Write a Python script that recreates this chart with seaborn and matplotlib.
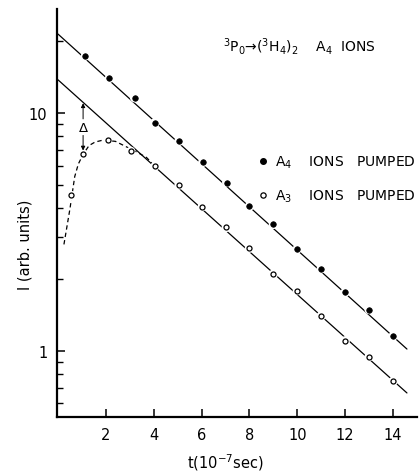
import numpy as np
import pandas as pd
import matplotlib
matplotlib.use("Agg")
import matplotlib.pyplot as plt
import seaborn as sns
from matplotlib.lines import Line2D
from matplotlib.ticker import LogLocator, NullFormatter

# ---- data ----
t_a4 = [1.15, 2.15, 3.2, 4.05, 5.05, 6.05, 7.05, 8.0, 9.0, 10, 11, 12, 13, 14]
i_a4 = [17.4, 14.0, 11.6, 9.1, 7.6, 6.2, 5.1, 4.05, 3.4, 2.68, 2.21, 1.76, 1.49, 1.15]
t_a3 = [0.55, 1.05, 2.07, 3.04, 4.07, 5.06, 6.03, 7.03, 8.0, 9.0, 10, 11, 12, 13, 14]
i_a3 = [4.5, 6.7, 7.7, 6.9, 6.0, 4.98, 4.04, 3.3, 2.7, 2.1, 1.79, 1.40, 1.10, 0.944, 0.743]
fit_t = [0.0, 14.58]
fit_a4 = [21.5, 1.016]
fit_a3 = [13.8, 0.664]
rise_t = [0.25, 0.5, 0.7, 0.85, 1.05, 1.3, 1.55, 1.9, 2.4, 2.75, 3.3, 3.7, 4.0]
rise_i = [2.8, 3.95, 5.4, 6.1, 6.7, 7.3, 7.55, 7.7, 7.6, 7.3, 6.85, 6.5, 6.05]
delta_t = 1.05
delta_top, delta_mid, delta_bottom = 11.0, 8.73, 6.95
x_ticks = [2, 4, 6, 8, 10, 12, 14]
x_labels = ["2", "4", "6", "8", "10", "12", "14"]
y_ticks = [1, 10]
y_labels = ["1", "10"]
title = r"$^3$P$_0$→($^3$H$_4$)$_2$    A$_4$  IONS"
legend_labels = [r"A$_4$    IONS   PUMPED", r"A$_3$    IONS   PUMPED"]

sns.set_style("ticks")
plt.rcParams["font.family"] = ["DejaVu Sans"]
plt.rcParams["mathtext.default"] = "regular"
for k in ["text.color", "axes.labelcolor", "xtick.color", "ytick.color", "axes.edgecolor"]:
    plt.rcParams[k] = "black"

fig = plt.figure(figsize=(4.2, 4.77), dpi=100)
L, R, B, T = 57, 417, 418, 10
ax = fig.add_axes([L / 420, 1 - B / 477, (R - L) / 420, (B - T) / 477])
ax.set_yscale("log")

lw = 0.9
sns.lineplot(x=fit_t, y=fit_a4, color="k", lw=lw, ax=ax, zorder=2)
sns.lineplot(x=fit_t, y=fit_a3, color="k", lw=lw, ax=ax, zorder=2)
sns.lineplot(x=rise_t, y=rise_i, color="k", lw=lw, ls=(0, (3.5, 2.5)), ax=ax, zorder=2)

# white halos that break the lines around the points
sns.scatterplot(x=t_a4, y=i_a4, s=45, color="white", edgecolor="none", ax=ax, zorder=3)
sns.scatterplot(x=t_a3, y=i_a3, s=45, color="white", edgecolor="none", ax=ax, zorder=3)
sns.scatterplot(x=t_a4, y=i_a4, s=16, color="k", edgecolor="k", linewidth=0.5, ax=ax, zorder=4)
sns.scatterplot(x=t_a3, y=i_a3, s=13, color="white", edgecolor="k", linewidth=0.9, ax=ax, zorder=4)

# delta arrow
ax.text(delta_t, delta_mid, "Δ", ha="center", va="center", fontsize=9.5)
ax.annotate("", xy=(delta_t, delta_top), xytext=(delta_t, 9.45),
            arrowprops=dict(arrowstyle="-|>", lw=0.7, color="k", shrinkA=0, shrinkB=0, mutation_scale=6))
ax.annotate("", xy=(delta_t, delta_bottom), xytext=(delta_t, 8.05),
            arrowprops=dict(arrowstyle="-|>", lw=0.7, color="k", shrinkA=0, shrinkB=0, mutation_scale=6))

ax.set_xlim(-0.04, 15)
ax.set_ylim(0.526, 27.4)
ax.set_xticks(x_ticks, x_labels)
ax.set_yticks(y_ticks, y_labels)
ax.yaxis.set_minor_locator(LogLocator(base=10, subs=np.arange(2, 10)))
ax.yaxis.set_minor_formatter(NullFormatter())
ax.tick_params(axis="both", which="major", direction="in", length=5.5, width=1.1, labelsize=10.5, pad=7)
ax.tick_params(axis="y", which="minor", direction="in", length=4, width=1)

for s in ["top", "right"]:
    ax.spines[s].set_visible(False)
for s in ["left", "bottom"]:
    ax.spines[s].set_linewidth(1.6)

ax.set_xlabel(r"t(10$^{-7}$sec)", fontsize=10.5)
ax.set_ylabel("I (arb. units)", fontsize=10.5)
ax.xaxis.set_label_coords((225 - L) / (R - L), (B - 452) / (B - T))
ax.yaxis.set_label_coords((33 - L) / (R - L), (B - 245) / (B - T))

ax.text((223 - L) / (R - L), (B - 47) / (B - T), title, transform=ax.transAxes,
        ha="left", va="center", fontsize=10)

handles = [Line2D([], [], ls="none", marker="o", ms=4, mfc="k", mec="k"),
           Line2D([], [], ls="none", marker="o", ms=3.8, mfc="white", mec="k", mew=0.9)]
ax.legend(handles, legend_labels, loc="center left", bbox_to_anchor=(259 / 420, 1 - 180 / 477),
          bbox_transform=fig.transFigure, frameon=False, handlelength=0.55, handletextpad=0.6,
          borderpad=0, borderaxespad=0, labelspacing=1.25, fontsize=10)

fig.savefig("out.png", dpi=100)
